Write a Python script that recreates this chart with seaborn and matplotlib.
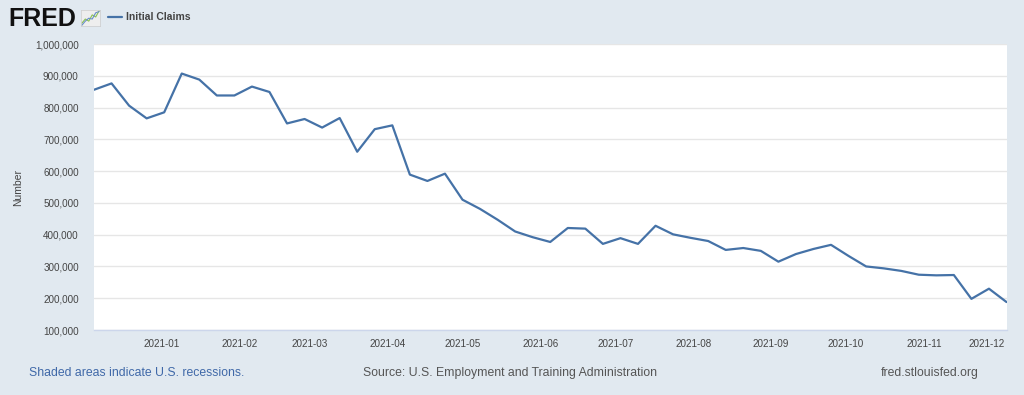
import matplotlib
matplotlib.use("Agg")
import matplotlib.pyplot as plt
import matplotlib.transforms as mtransforms
from matplotlib.lines import Line2D
from matplotlib.ticker import FuncFormatter
import seaborn as sns
import pandas as pd

# ---- data ----
start_week = "2020-12-05"
claims = [856000, 876000, 806000, 766000, 785000, 907000, 888000, 838000, 838000,
          866000, 849000, 750000, 764000, 737000, 767000, 661000, 732000, 744000,
          589000, 569000, 592000, 510000, 481000, 447000, 410000, 392000, 377000,
          421000, 419000, 371000, 389000, 371000, 428000, 401000, 390000, 380000,
          352000, 358000, 349000, 315000, 339000, 355000, 368000, 333000, 300000,
          294000, 286000, 274000, 272000, 273000, 198000, 230000, 188000]
y_ticks = [100000, 200000, 300000, 400000, 500000, 600000, 700000, 800000, 900000, 1000000]
x_tick_labels = ["2021-01", "2021-02", "2021-03", "2021-04", "2021-05", "2021-06",
                 "2021-07", "2021-08", "2021-09", "2021-10", "2021-11", "2021-12"]
series_name = "Initial Claims"
y_label = "Number"
footer_left = "Shaded areas indicate U.S. recessions."
footer_mid = "Source: U.S. Employment and Training Administration"
footer_right = "fred.stlouisfed.org"
icon_green = [1, 2, 1.5, 3, 2.5, 4]
icon_blue = [0.5, 1.5, 2.2, 2, 3.5, 3.8]

dates = pd.date_range(start_week, periods=len(claims), freq="7D")
df = pd.DataFrame({"date": dates, "value": claims})

# ---- style ----
BG = "#e1e9f0"
LINE = "#4572a7"
sns.set_theme(style="white")
plt.rcParams["font.family"] = ["Liberation Sans", "DejaVu Sans"]

W, H = 1024, 395
fig = plt.figure(figsize=(W / 100, H / 100), dpi=100)
fig.patch.set_facecolor(BG)

ax_w = 912.5
ax = fig.add_axes([94 / W, (H - 330) / H, ax_w / W, 286 / H])
ax.set_facecolor("white")
sns.lineplot(data=df, x="date", y="value", ax=ax, color=LINE, linewidth=1.6)

ax.set_xlim(dates[0], dates[-1])
ax.set_ylim(y_ticks[0], y_ticks[-1])
ax.set_yticks(y_ticks)
ax.yaxis.set_major_formatter(FuncFormatter(lambda v, p: f"{int(v):,}"))
ax.grid(axis="y", color="#e6e6e6", linewidth=1)
ax.set_axisbelow(True)

xt = pd.to_datetime([s + "-01" for s in x_tick_labels])
ax.set_xticks(xt)
ax.set_xticklabels(x_tick_labels)

ax.tick_params(axis="y", length=0, labelsize=7.1, labelcolor="#444444", pad=11)
ax.tick_params(axis="x", length=5, width=1, color="#ccd6eb", direction="out",
               labelsize=7.1, labelcolor="#444444", pad=1.5)
for s in ["top", "right", "left"]:
    ax.spines[s].set_visible(False)
ax.spines["bottom"].set_color("#ccd6eb")
ax.spines["bottom"].set_linewidth(1)

# shift last label left so it stays inside
last = ax.get_xticklabels()[-1]
last.set_transform(last.get_transform() + mtransforms.ScaledTranslation(-12 / 100, 0, fig.dpi_scale_trans))

ax.set_xlabel("")
ax.set_ylabel(y_label, fontsize=7.5, color="#444444")
ax.yaxis.set_label_coords(-(94 - 18) / ax_w, 0.5)
ax.yaxis.label.set_va("center")

# ---- header ----
fig.text(8 / W, 1 - 26 / H, "FRED", fontsize=18, fontweight="bold", color="#111111",
         ha="left", va="baseline")
iax = fig.add_axes([81 / W, 1 - 26 / H, 19 / W, 16 / H])
iax.set_facecolor("#eeeeee")
iax.plot(icon_green, color="#8cc152", linewidth=0.8)
iax.plot(icon_blue, color="#6a8fc7", linewidth=0.8)
iax.set_xticks([]); iax.set_yticks([])
for s in iax.spines.values():
    s.set_color("#cccccc"); s.set_linewidth(0.5)
fig.add_artist(Line2D([108 / W, 122 / W], [1 - 17 / H, 1 - 17 / H], color=LINE,
                      linewidth=1.6, transform=fig.transFigure))
fig.text(126 / W, 1 - 17 / H, series_name, fontsize=7.5, fontweight="bold",
         color="#444444", ha="left", va="center")

# ---- footer ----
fy = 1 - 373 / H
fig.text(29 / W, fy, footer_left, fontsize=8.85, color="#3f68a8", ha="left", va="center")
fig.text(363 / W, fy, footer_mid, fontsize=8.85, color="#555555", ha="left", va="center")
fig.text(979 / W, fy, footer_right, fontsize=8.85, color="#555555", ha="right", va="center")

fig.savefig("out.png", dpi=100, facecolor=BG)
